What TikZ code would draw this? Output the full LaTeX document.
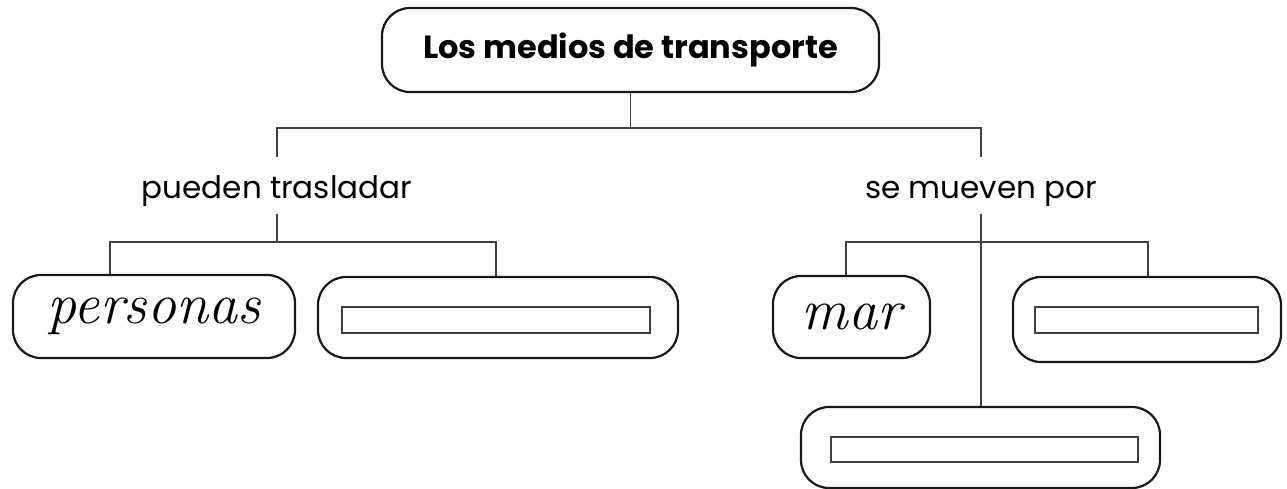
\documentclass[tikz,border=0pt]{standalone}
\usepackage{fontspec}
\setsansfont{Poppins}
\begin{document}
\begin{tikzpicture}[x=1pt,y=-1pt,
  box/.style={draw=black!90, line width=2.2pt, rounded corners=28pt, inner sep=0pt},
  slot/.style={draw=black!75, line width=1.1pt, inner sep=0pt, minimum height=26pt},
  conn/.style={draw=black!75, line width=1.2pt},
  verb/.style={font=\sffamily\fontsize{31}{31}\selectfont, inner ysep=0pt, text height=42pt, text depth=15pt},
  hand/.style={font=\itshape\fontsize{58}{58}\selectfont}]
\useasboundingbox (0,0) rectangle (1287,489);

\node[box, minimum width=497pt, minimum height=84pt,
  font=\sffamily\bfseries\fontsize{32}{32}\selectfont] (title) at (630.5,50) {Los medios de transporte};

\node[verb, anchor=base] (pueden) at (277,199) {pueden trasladar};
\node[verb, anchor=base] (mueven) at (981,199) {se mueven por};

\node[box, hand, minimum width=282pt, minimum height=83pt] (personas) at (154,316.5) {personas};
\node[box, minimum width=360pt, minimum height=81pt] (blankA) at (498,317.5) {};
\node[slot, minimum width=308pt] (slotA) at (496,320) {};

\node[box, hand, minimum width=157pt, minimum height=82pt] (mar) at (851.5,317) {mar};
\node[box, minimum width=268pt, minimum height=85pt] (blankB) at (1147,319.5) {};
\node[slot, minimum width=223pt] (slotB) at (1146.5,320) {};

\node[box, minimum width=359pt, minimum height=81pt] (blankC) at (980.5,447.5) {};
\node[slot, minimum width=307pt, minimum height=25pt] (slotC) at (984.5,449.5) {};

\coordinate (topL) at (277,128);
\coordinate (topR) at (981,128);
\draw[conn] (title.south) -- (title.south |- topL);
\draw[conn] (pueden.north) -- (topL) -- (topR) -- (mueven.north);

\coordinate (pL) at (110,242);
\coordinate (pR) at (496,242);
\draw[conn] (pueden.south) -- (pueden.south |- pL);
\draw[conn] (personas.north -| pL) -- (pL) -- (pR) -- (blankA.north -| pR);

\coordinate (mL) at (846,242);
\coordinate (mR) at (1148,242);
\draw[conn] (mar.north -| mL) -- (mL) -- (mR) -- (blankB.north -| mR);
\draw[conn] (mueven.south) -- (blankC.north -| mueven.south);
\end{tikzpicture}
\end{document}
